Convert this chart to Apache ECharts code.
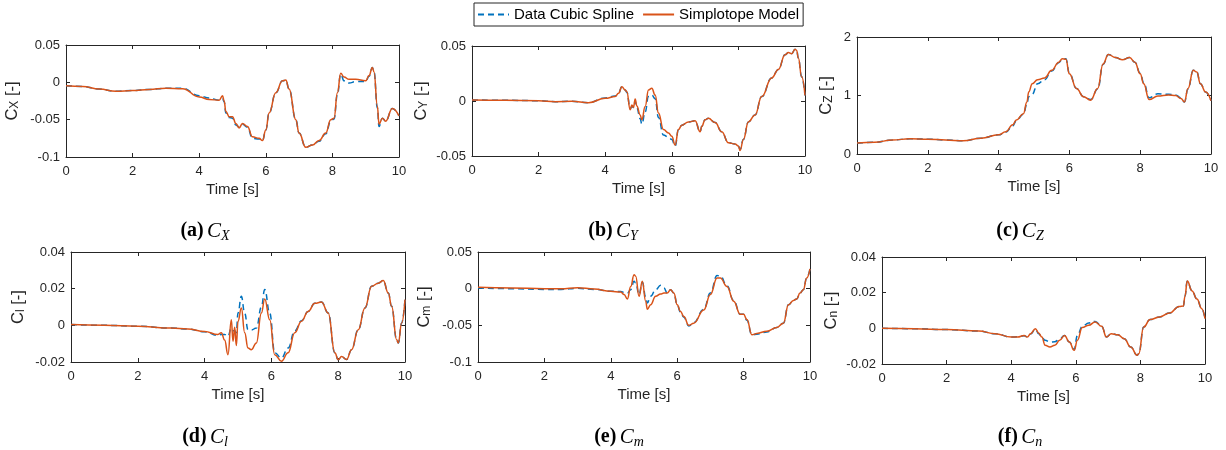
<!DOCTYPE html>
<html>
<head>
<meta charset="utf-8">
<script src="https://cdn.jsdelivr.net/npm/echarts@6.0.0/dist/echarts.min.js"></script>
<style>
  html, body { margin: 0; padding: 0; background: #fff; }
  #chart { width: 1226px; height: 450px; }
</style>
</head>
<body>
<div id="chart"></div>
<script>
// legend names
const seriesNames = ['Data Cubic Spline', 'Simplotope Model'];
const timeTicks = [0, 2, 4, 6, 8, 10];

// (a) C_X
const tA = [0,0.5,1,1.5,2,2.5,3,3.5,4,4.3,4.6,4.7,4.75,4.8,4.9,5.0,5.1,5.2,5.3,5.45,5.6,5.8,5.9,6.0,6.1,6.3,6.5,6.6,6.7,6.9,7.0,7.2,7.4,7.6,7.8,7.95,8.05,8.15,8.25,8.35,8.5,8.7,9.0,9.1,9.2,9.25,9.35,9.4,9.5,9.6,9.8,10];
const splineA = [-0.0045,-0.0055,-0.009,-0.012,-0.011,-0.0095,-0.008,-0.008,-0.018,-0.021,-0.024,-0.022,-0.026,-0.041,-0.047,-0.048,-0.057,-0.060,-0.056,-0.060,-0.075,-0.076,-0.078,-0.064,-0.041,-0.014,0.002,0.003,-0.009,-0.05,-0.068,-0.087,-0.084,-0.079,-0.069,-0.052,-0.049,-0.016,0.011,0.002,-0.001,0.001,0.001,0.008,0.02,0.014,-0.034,-0.059,-0.048,-0.052,-0.035,-0.045];
const modelA = [-0.0045,-0.0055,-0.009,-0.012,-0.011,-0.0095,-0.008,-0.0085,-0.0195,-0.023,-0.024,-0.018,-0.025,-0.039,-0.046,-0.046,-0.055,-0.061,-0.055,-0.059,-0.073,-0.075,-0.078,-0.064,-0.041,-0.014,0.002,0.003,-0.009,-0.05,-0.068,-0.087,-0.084,-0.078,-0.068,-0.05,-0.048,-0.014,0.012,0.007,0.004,0.004,0.002,0.009,0.02,0.014,-0.032,-0.056,-0.048,-0.052,-0.035,-0.045];

// (b) C_Y
const tB = [0,1,2,2.5,3,3.5,4,4.3,4.4,4.5,4.6,4.65,4.75,4.8,4.85,4.9,4.95,5.05,5.1,5.2,5.3,5.4,5.5,5.6,5.75,5.9,6.0,6.1,6.2,6.3,6.5,6.7,6.85,6.9,7.0,7.1,7.3,7.5,7.7,7.9,8.0,8.05,8.15,8.3,8.5,8.7,9.0,9.2,9.4,9.5,9.6,9.7,9.75,9.8,9.9,10];
const splineB = [0.001,0.0006,0.0003,-0.0006,-0.0003,-0.0015,0.0028,0.0045,0.007,0.013,0.010,0.008,-0.007,-0.005,-0.006,0.000,-0.006,-0.016,-0.021,-0.010,0.004,0.0055,0.002,-0.015,-0.031,-0.033,-0.035,-0.041,-0.026,-0.022,-0.019,-0.018,-0.028,-0.023,-0.017,-0.0157,-0.0196,-0.028,-0.038,-0.039,-0.041,-0.044,-0.035,-0.019,-0.0127,0.004,0.021,0.0287,0.042,0.044,0.043,0.047,0.046,0.039,0.022,0.005];
const modelB = [0.001,0.0006,0.0003,-0.0006,-0.0003,-0.0015,0.0024,0.004,0.007,0.013,0.010,0.0085,-0.008,-0.0036,-0.0057,0.0018,-0.0045,-0.0127,-0.017,-0.005,0.010,0.0115,0.0054,-0.011,-0.026,-0.029,-0.032,-0.040,-0.026,-0.022,-0.019,-0.018,-0.028,-0.023,-0.017,-0.0157,-0.0196,-0.028,-0.038,-0.039,-0.041,-0.045,-0.035,-0.019,-0.0127,0.004,0.021,0.0287,0.042,0.044,0.043,0.047,0.046,0.039,0.022,0.005];

// (c) C_Z
const tC = [0,0.5,1,1.5,2,2.5,3,3.5,4,4.2,4.4,4.5,4.7,4.8,4.85,4.95,5.1,5.3,5.5,5.7,5.8,5.9,6.0,6.2,6.4,6.6,6.8,6.95,7.1,7.3,7.5,7.7,7.85,8.0,8.1,8.25,8.5,8.8,9.0,9.15,9.25,9.35,9.5,9.6,9.7,9.85,10];
const splineC = [0.186,0.2,0.24,0.26,0.254,0.24,0.225,0.27,0.327,0.37,0.48,0.57,0.68,0.85,0.98,1.02,1.20,1.27,1.42,1.56,1.62,1.63,1.38,1.12,0.98,0.93,1.11,1.53,1.70,1.65,1.61,1.65,1.57,1.38,1.22,0.96,1.03,1.02,1.01,0.96,0.89,1.11,1.43,1.40,1.20,1.06,0.91];
const modelC = [0.186,0.2,0.24,0.26,0.254,0.24,0.225,0.27,0.327,0.38,0.50,0.58,0.69,0.89,1.06,1.20,1.27,1.30,1.43,1.57,1.63,1.62,1.37,1.12,0.98,0.92,1.12,1.54,1.70,1.65,1.61,1.65,1.57,1.37,1.20,0.93,0.99,1.01,1.00,0.95,0.89,1.12,1.43,1.40,1.20,1.06,0.91];

// (d) C_l
const tD = [0,1,2,3,3.5,4,4.4,4.5,4.6,4.7,4.8,4.85,4.9,4.95,5.0,5.1,5.2,5.3,5.4,5.55,5.7,5.8,5.95,6.1,6.3,6.5,6.7,6.9,7.1,7.3,7.5,7.7,7.9,8.0,8.1,8.25,8.4,8.6,8.8,9.0,9.2,9.35,9.5,9.6,9.75,9.8,9.9,10];
const splineD = [0.0004,0,-0.0005,-0.0015,-0.002,-0.0035,-0.0055,-0.005,-0.005,-0.006,-0.0015,-0.003,-0.003,-0.004,0.0067,0.0158,0.0067,-0.0024,-0.0025,-0.0015,0.01,0.0195,0.0067,-0.015,-0.0178,-0.0124,-0.003,0.0025,0.0076,0.012,0.0127,0.0067,-0.015,-0.0187,-0.017,-0.0187,-0.0133,-0.0024,0.0095,0.0213,0.023,0.0244,0.0176,0.0104,-0.0078,-0.0096,0.0013,0.014];
const modelD = [0.0004,0,-0.0005,-0.0015,-0.002,-0.0033,-0.005,-0.004,-0.008,-0.016,0.003,-0.0087,-0.001,-0.011,0.0022,0.0095,-0.004,-0.0124,-0.0133,-0.0096,0.0067,0.0144,0.003,-0.016,-0.0196,-0.015,-0.004,0.0022,0.0076,0.012,0.0127,0.0067,-0.015,-0.0187,-0.017,-0.0187,-0.0133,-0.0024,0.0095,0.0213,0.023,0.0244,0.0176,0.0104,-0.0078,-0.0096,0.0013,0.014];

// (e) C_m
const tE = [0,1,2,2.5,3,3.5,4,4.3,4.4,4.5,4.6,4.7,4.75,4.85,4.95,5.05,5.1,5.2,5.35,5.5,5.6,5.7,5.8,5.9,6.0,6.1,6.2,6.35,6.5,6.8,7.0,7.2,7.3,7.5,7.7,7.9,8.0,8.1,8.25,8.4,8.7,9.0,9.2,9.35,9.5,9.6,9.7,9.8,9.9,10];
const splineE = [0.001,0,-0.001,-0.001,0.0005,-0.001,-0.0036,-0.004,-0.005,-0.006,-0.0014,0.010,0.008,-0.008,0.0086,-0.0105,-0.0195,-0.0105,-0.0014,0.0045,0.001,-0.006,-0.0014,-0.006,-0.022,-0.032,-0.039,-0.051,-0.046,-0.028,-0.006,0.018,0.017,0.004,-0.016,-0.035,-0.035,-0.043,-0.063,-0.062,-0.059,-0.053,-0.047,-0.022,-0.016,-0.014,-0.006,-0.0014,0.0145,0.027];
const modelE = [0.0018,0.001,0,0,0.0014,-0.0005,-0.0036,-0.0045,-0.008,-0.014,0.003,0.019,0.017,-0.0105,0.010,-0.017,-0.028,-0.022,-0.0105,-0.0073,-0.006,-0.006,-0.0014,-0.006,-0.022,-0.031,-0.038,-0.050,-0.047,-0.029,-0.008,0.0145,0.0145,0.003,-0.017,-0.035,-0.035,-0.042,-0.063,-0.061,-0.058,-0.053,-0.047,-0.022,-0.016,-0.014,-0.006,-0.0014,0.0145,0.027];

// (f) C_n
const tF = [0,1,2,3,3.5,4,4.2,4.4,4.5,4.6,4.75,4.85,4.95,5.05,5.2,5.35,5.5,5.65,5.8,5.95,6.05,6.2,6.4,6.6,6.8,6.95,7.1,7.3,7.5,7.7,7.9,7.95,8.1,8.3,8.6,8.9,9.2,9.33,9.38,9.45,9.6,9.75,9.9,10];
const splineF = [0,-0.0002,-0.0007,-0.0015,-0.003,-0.0049,-0.0047,-0.0042,-0.0048,-0.0032,-0.0005,-0.003,-0.005,-0.0067,-0.0077,-0.0075,-0.006,-0.004,-0.0077,-0.0118,-0.004,0.0011,0.003,0.0039,0.0012,-0.0048,-0.003,-0.0036,-0.0058,-0.0105,-0.0151,-0.0142,0.0007,0.0049,0.0064,0.0086,0.0123,0.0125,0.018,0.0265,0.021,0.0165,0.011,0.0054];
const modelF = [0,-0.0002,-0.0007,-0.0015,-0.003,-0.0049,-0.0049,-0.004,-0.0049,-0.003,-0.0002,-0.0026,-0.0049,-0.0095,-0.0105,-0.0095,-0.0067,-0.004,-0.0077,-0.0123,-0.0067,0.0004,0.0017,0.0036,0.0011,-0.0049,-0.003,-0.0036,-0.0058,-0.0105,-0.0151,-0.0142,0.0007,0.0049,0.0064,0.0086,0.0123,0.0125,0.018,0.0265,0.021,0.0165,0.011,0.0054];

// y-axis ranges [min, max, interval]
const yRanges = [[-0.1, 0.05, 0.05], [-0.05, 0.05, 0.05], [0, 2, 1], [-0.02, 0.04, 0.02], [-0.1, 0.05, 0.05], [-0.02, 0.04, 0.02]];
const subs = ['X', 'Y', 'Z', 'l', 'm', 'n'];
const letters = ['a', 'b', 'c', 'd', 'e', 'f'];

const panels = [
  { t: tA, spline: splineA, model: modelA, box: [66, 45, 333, 112], gap: 45, cap: [205, 231] },
  { t: tB, spline: splineB, model: modelB, box: [472, 46, 333, 110], gap: 42, cap: [613, 231] },
  { t: tC, spline: splineC, model: modelC, box: [857, 37, 354, 117], gap: 22, cap: [1020, 231] },
  { t: tD, spline: splineD, model: modelD, box: [71, 252, 334, 110], gap: 44, cap: [205, 437] },
  { t: tE, spline: splineE, model: modelE, box: [478, 252, 332, 110], gap: 45, cap: [619, 437] },
  { t: tF, spline: splineF, model: modelF, box: [882, 257, 323, 107], gap: 42, cap: [1020, 437] },
];

const FONT = 'Liberation Sans, Arial, sans-serif';
const SERIF = 'Liberation Serif, Times New Roman, serif';
const INK = '#262626';
const BLUE = '#0072BD';
const RED = '#D95319';

const grid = [], xAxis = [], yAxis = [], series = [], graphic = [];

panels.forEach((p, i) => {
  const [left, top, width, height] = p.box;
  const [ymin, ymax, yint] = yRanges[i];
  grid.push({ left, top, width, height });

  const tick = { show: true, inside: true, length: 4, lineStyle: { color: INK, width: 1 } };
  const line = { show: true, onZero: false, lineStyle: { color: INK, width: 1 } };
  const label = { fontSize: 13, color: INK, fontFamily: FONT };

  xAxis.push({
    gridIndex: i, type: 'value', min: 0, max: 10, interval: 2, position: 'bottom',
    axisLine: line, axisTick: tick, splitLine: { show: false },
    axisLabel: Object.assign({ margin: 8 }, label),
    name: 'Time [s]', nameLocation: 'middle', nameGap: 25,
    nameTextStyle: { fontSize: 15, color: INK, fontFamily: FONT },
  });
  xAxis.push({
    gridIndex: i, type: 'value', min: 0, max: 10, interval: 2, position: 'top',
    axisLine: line, axisTick: tick, splitLine: { show: false }, axisLabel: { show: false },
  });
  yAxis.push({
    gridIndex: i, type: 'value', min: ymin, max: ymax, interval: yint, position: 'left',
    axisLine: line, axisTick: tick, splitLine: { show: false },
    axisLabel: Object.assign({ margin: 6 }, label),
    name: '{c|C}{s|' + subs[i] + '}{c| [-]}', nameLocation: 'middle', nameGap: p.gap,
    nameTextStyle: {
      color: INK, fontFamily: FONT, fontSize: 16,
      rich: {
        c: { fontSize: 16.5, color: INK, fontFamily: FONT, lineHeight: 18 },
        s: { fontSize: 12, color: INK, fontFamily: FONT, lineHeight: 7, verticalAlign: 'bottom' },
      },
    },
  });
  yAxis.push({
    gridIndex: i, type: 'value', min: ymin, max: ymax, interval: yint, position: 'right',
    axisLine: line, axisTick: tick, splitLine: { show: false }, axisLabel: { show: false },
  });

  const common = {
    type: 'line', xAxisIndex: 2 * i, yAxisIndex: 2 * i, showSymbol: false, symbol: 'none',
    smooth: 0.45, smoothMonotone: 'x', silent: true, animation: false,
  };
  series.push(Object.assign({}, common, {
    name: seriesNames[0],
    data: p.t.map((t, k) => [t, p.spline[k]]),
    lineStyle: { color: BLUE, width: 1.5, type: [6, 4] },
    itemStyle: { color: BLUE },
  }));
  series.push(Object.assign({}, common, {
    name: seriesNames[1],
    data: p.t.map((t, k) => [t, p.model[k]]),
    lineStyle: { color: RED, width: 1.5 },
    itemStyle: { color: RED },
  }));

  graphic.push({
    type: 'text', x: p.cap[0], y: p.cap[1],
    style: {
      text: '{b|(' + letters[i] + ')} {i|C}{s|' + subs[i] + '}',
      align: 'center', verticalAlign: 'middle',
      rich: {
        b: { fontFamily: SERIF, fontWeight: 'bold', fontSize: 20, fill: '#000', lineHeight: 24 },
        i: { fontFamily: SERIF, fontStyle: 'italic', fontSize: 21, fill: '#000', lineHeight: 24 },
        s: { fontFamily: SERIF, fontStyle: 'italic', fontSize: 14, fill: '#000', lineHeight: 10, verticalAlign: 'bottom' },
      },
    },
  });
});

const chart = echarts.init(document.getElementById('chart'));
chart.setOption({
  animation: false,
  backgroundColor: '#fff',
  grid, xAxis, yAxis, series, graphic,
  legend: {
    data: [
      { name: seriesNames[0], lineStyle: { type: [6, 4] } },
      { name: seriesNames[1] },
    ],
    left: 474, top: 3,
    itemWidth: 31, itemHeight: 10, itemGap: 8,
    itemStyle: { opacity: 0 },
    padding: [4, 4, 4, 3],
    borderColor: INK, borderWidth: 1,
    textStyle: { fontSize: 15, color: '#000', fontFamily: FONT },
  },
});
</script>
</body>
</html>
